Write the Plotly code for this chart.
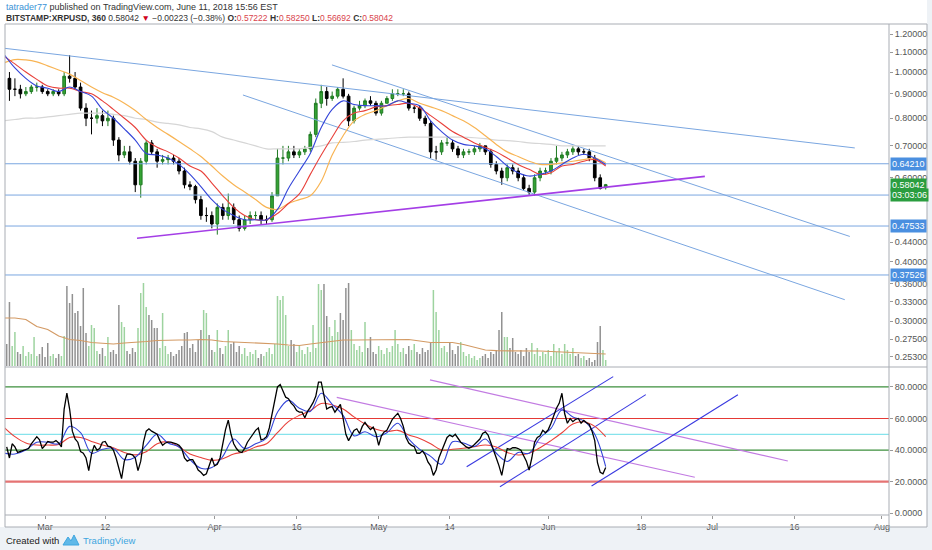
import numpy as np
import pandas as pd
import plotly.graph_objects as go

# ---------------- data ----------------
candle_start = "2018-02-22 12:00"   # daily candles, centred at noon
opens = [0.97, 0.92, 0.92, 0.90, 0.91, 0.93, 0.93, 0.91, 0.90, 0.91,
         0.90, 0.98, 0.97, 0.93, 0.84, 0.80, 0.80, 0.81, 0.79, 0.80,
         0.72, 0.67, 0.68, 0.65, 0.58, 0.65, 0.71, 0.68, 0.65, 0.655,
         0.66, 0.65, 0.62, 0.58, 0.575, 0.54, 0.50, 0.50, 0.48, 0.52,
         0.50, 0.52, 0.49, 0.47, 0.49, 0.50, 0.50, 0.49, 0.49, 0.55,
         0.66, 0.66, 0.68, 0.67, 0.68, 0.69, 0.74, 0.86, 0.91, 0.88,
         0.89, 0.92, 0.89, 0.79, 0.84, 0.85, 0.87, 0.86, 0.82, 0.86,
         0.88, 0.90, 0.90, 0.90, 0.84, 0.84, 0.80, 0.78, 0.68, 0.68,
         0.71, 0.71, 0.69, 0.67, 0.68, 0.68, 0.69, 0.70, 0.68, 0.64,
         0.62, 0.60, 0.63, 0.62, 0.60, 0.57, 0.56, 0.60, 0.62, 0.62,
         0.65, 0.66, 0.67, 0.68, 0.69, 0.68, 0.68, 0.66, 0.60, 0.57222]
closes = [0.92, 0.92, 0.90, 0.91, 0.93, 0.93, 0.91, 0.90, 0.91, 0.90,
          0.98, 0.97, 0.93, 0.84, 0.80, 0.80, 0.81, 0.79, 0.80, 0.72,
          0.67, 0.68, 0.65, 0.58, 0.65, 0.71, 0.68, 0.65, 0.655, 0.66,
          0.65, 0.62, 0.58, 0.575, 0.54, 0.50, 0.50, 0.48, 0.52, 0.50,
          0.52, 0.49, 0.47, 0.49, 0.50, 0.50, 0.49, 0.49, 0.55, 0.66,
          0.66, 0.68, 0.67, 0.68, 0.69, 0.74, 0.86, 0.91, 0.88, 0.89,
          0.92, 0.89, 0.79, 0.84, 0.85, 0.87, 0.86, 0.82, 0.86, 0.88,
          0.90, 0.90, 0.90, 0.84, 0.84, 0.80, 0.78, 0.68, 0.68, 0.71,
          0.71, 0.69, 0.67, 0.68, 0.68, 0.69, 0.70, 0.68, 0.64, 0.62,
          0.60, 0.63, 0.62, 0.60, 0.57, 0.56, 0.60, 0.62, 0.62, 0.65,
          0.66, 0.67, 0.68, 0.69, 0.68, 0.68, 0.66, 0.60, 0.57, 0.58042]
highs = [1.00, 0.97, 0.94, 0.93, 0.94, 0.95, 0.94, 0.92, 0.92, 0.92,
         1.00, 1.085, 1.00, 0.95, 0.86, 0.83, 0.84, 0.83, 0.83, 0.81,
         0.73, 0.70, 0.70, 0.66, 0.66, 0.72, 0.72, 0.69, 0.67, 0.67,
         0.67, 0.66, 0.63, 0.59, 0.58, 0.55, 0.52, 0.51, 0.53, 0.53,
         0.556, 0.53, 0.50, 0.50, 0.51, 0.51, 0.51, 0.50, 0.56, 0.69,
         0.70, 0.70, 0.70, 0.69, 0.70, 0.75, 0.88, 0.94, 0.93, 0.91,
         0.93, 0.97, 0.90, 0.85, 0.87, 0.88, 0.89, 0.87, 0.87, 0.89,
         0.92, 0.92, 0.92, 0.91, 0.85, 0.85, 0.81, 0.79, 0.70, 0.72,
         0.73, 0.72, 0.70, 0.69, 0.69, 0.70, 0.71, 0.70, 0.69, 0.65,
         0.63, 0.64, 0.64, 0.63, 0.61, 0.58, 0.61, 0.63, 0.63, 0.66,
         0.70, 0.68, 0.69, 0.70, 0.70, 0.69, 0.69, 0.67, 0.61, 0.58250]
lows = [0.87, 0.89, 0.88, 0.89, 0.90, 0.91, 0.90, 0.89, 0.89, 0.89,
        0.89, 0.95, 0.92, 0.83, 0.77, 0.74, 0.78, 0.77, 0.77, 0.70,
        0.65, 0.66, 0.64, 0.56, 0.545, 0.64, 0.67, 0.63, 0.64, 0.64,
        0.64, 0.61, 0.57, 0.565, 0.53, 0.49, 0.485, 0.47, 0.456, 0.49,
        0.49, 0.48, 0.463, 0.465, 0.48, 0.49, 0.48, 0.48, 0.485, 0.55,
        0.64, 0.65, 0.66, 0.66, 0.67, 0.68, 0.73, 0.84, 0.85, 0.87,
        0.88, 0.88, 0.77, 0.78, 0.83, 0.84, 0.85, 0.81, 0.81, 0.86,
        0.87, 0.89, 0.89, 0.83, 0.82, 0.79, 0.77, 0.66, 0.655, 0.67,
        0.70, 0.68, 0.66, 0.66, 0.67, 0.67, 0.68, 0.67, 0.63, 0.61,
        0.58, 0.59, 0.61, 0.59, 0.565, 0.55, 0.55, 0.59, 0.61, 0.61,
        0.64, 0.65, 0.66, 0.67, 0.67, 0.67, 0.65, 0.59, 0.567, 0.56692]

# 12-hour series (RSI oscillator and volume)
half_day_start = "2018-02-22 00:00"
rsi_values = [42, 35, 44, 42, 38.5, 39, 40, 40.5, 41, 44,
              46.5, 48.5, 46.5, 41, 43, 45.5, 45, 45, 46, 44.5,
              42, 66, 76, 66, 52, 47, 45, 39, 38, 35,
              27, 37.5, 43, 40, 41, 45, 45.5, 42.5, 42, 40,
              35, 28, 22, 33, 37.5, 37.5, 37, 35, 27, 33,
              45, 52, 53.5, 52, 51, 50, 46, 43, 44.5, 45,
              45, 44.5, 44, 43, 41, 35, 33, 34, 34, 31,
              27.4, 26, 24, 25, 30, 35, 30, 31, 35, 44,
              53, 59, 50, 44, 41, 39, 38.5, 41, 45, 47.5,
              50, 52.5, 54, 46.5, 47, 48.5, 54, 62, 70, 80,
              81.5, 77, 73.5, 72.5, 69.7, 68, 65, 64, 64, 60.5,
              64.5, 67, 70, 74, 83, 83, 75, 66, 67, 67.5,
              64, 66.4, 69, 60, 50, 46, 49, 52.5, 53.5, 50.5,
              55, 57.5, 55, 53, 54.5, 50.5, 43, 49, 51.5, 52.5,
              56, 59.5, 61.5, 63.3, 60, 55, 48, 44.5, 43, 42.2,
              38, 38, 39.5, 37, 32.5, 30, 24, 27.4, 35, 39,
              44, 48, 49.5, 48.5, 50, 47.5, 45, 43.5, 42, 41.2,
              42, 43.5, 45.5, 47, 50.5, 51.5, 49.5, 45, 40, 35,
              30, 24, 33, 41, 40.5, 41.5, 41.5, 41, 40, 36.5,
              33, 27.4, 35, 45, 48, 49, 52.5, 51, 53, 57,
              61.5, 66.5, 69.6, 76, 63, 57, 60, 58, 59.5, 60,
              57, 58.8, 57.3, 56.2, 52, 46, 32, 26, 25, 29]
volume_values = [22, 64, 20, 34, 14, 12, 20, 10, 14, 12,
                 29, 10, 12, 19, 9, 23, 10, 12, 8, 12,
                 10, 30, 80, 63, 72, 53, 55, 40, 78, 33,
                 20, 41, 38, 15, 12, 18, 10, 29, 14, 16,
                 12, 61, 44, 39, 15, 12, 18, 14, 38, 73,
                 83, 59, 51, 46, 38, 38, 18, 53, 20, 12,
                 14, 10, 12, 16, 20, 33, 34, 18, 22, 14,
                 26, 36, 56, 53, 31, 16, 14, 36, 18, 12,
                 20, 36, 22, 24, 14, 20, 12, 18, 10, 14,
                 12, 16, 8, 12, 10, 14, 18, 12, 22, 70,
                 66, 70, 51, 20, 26, 22, 14, 20, 16, 12,
                 19, 14, 41, 18, 82, 76, 82, 50, 39, 30,
                 46, 34, 53, 46, 78, 83, 36, 22, 16, 20,
                 14, 44, 18, 29, 14, 12, 20, 16, 12, 18,
                 14, 20, 36, 22, 14, 18, 12, 20, 16, 22,
                 14, 12, 18, 14, 16, 24, 76, 54, 36, 18,
                 20, 14, 24, 16, 12, 20, 24, 14, 10, 12,
                 8, 10, 6, 8, 10, 12, 8, 14, 12, 16,
                 36, 54, 29, 29, 18, 28, 14, 12, 16, 10,
                 18, 14, 23, 12, 18, 10, 14, 12, 16, 10,
                 22, 14, 18, 12, 22, 16, 12, 18, 10, 12,
                 8, 10, 6, 8, 4, 6, 24, 40, 16, 6]

# indicator lines sampled every 2 days
ma_start = "2018-02-21 12:00"
ma_fast = [1.09, 1.02, 0.97, 0.935, 0.925, 0.91, 0.93, 0.91, 0.89, 0.835,
           0.80, 0.76, 0.72, 0.675, 0.67, 0.66, 0.64, 0.61, 0.575, 0.54,
           0.515, 0.50, 0.49, 0.49, 0.49, 0.515, 0.57, 0.62, 0.675, 0.765,
           0.835, 0.87, 0.855, 0.85, 0.85, 0.85, 0.87, 0.86, 0.85, 0.79,
           0.75, 0.72, 0.705, 0.70, 0.69, 0.665, 0.635, 0.615, 0.605, 0.61,
           0.62, 0.64, 0.66, 0.672, 0.66, 0.64]
ma_mid = [1.08, 1.04, 1.00, 0.965, 0.935, 0.925, 0.925, 0.91, 0.90, 0.87,
          0.835, 0.80, 0.765, 0.72, 0.695, 0.68, 0.66, 0.635, 0.62, 0.585,
          0.55, 0.52, 0.50, 0.49, 0.49, 0.505, 0.53, 0.555, 0.61, 0.67,
          0.73, 0.79, 0.82, 0.83, 0.845, 0.85, 0.855, 0.86, 0.84, 0.81,
          0.78, 0.75, 0.73, 0.71, 0.695, 0.68, 0.66, 0.64, 0.625, 0.61,
          0.615, 0.635, 0.64, 0.65, 0.655, 0.635]
ma_slow = [1.045, 1.062, 1.06, 1.05, 1.03, 1.01, 0.99, 0.96, 0.93, 0.905,
           0.885, 0.86, 0.83, 0.795, 0.765, 0.74, 0.715, 0.69, 0.665, 0.635,
           0.605, 0.58, 0.56, 0.54, 0.52, 0.515, 0.53, 0.54, 0.55, 0.59,
           0.67, 0.735, 0.79, 0.815, 0.83, 0.85, 0.87, 0.88, 0.86, 0.845,
           0.83, 0.81, 0.79, 0.765, 0.735, 0.705, 0.68, 0.665, 0.65, 0.64,
           0.64, 0.645, 0.65, 0.655, 0.66, 0.645]
ma_long = [0.79, 0.795, 0.80, 0.80, 0.805, 0.81, 0.815, 0.82, 0.82, 0.82,
           0.815, 0.81, 0.80, 0.795, 0.785, 0.78, 0.775, 0.765, 0.76, 0.75,
           0.73, 0.72, 0.71, 0.70, 0.69, 0.69, 0.69, 0.69, 0.695, 0.70,
           0.71, 0.712, 0.715, 0.72, 0.722, 0.725, 0.728, 0.73, 0.73, 0.73,
           0.73, 0.73, 0.73, 0.728, 0.725, 0.72, 0.718, 0.715, 0.71, 0.708,
           0.705, 0.70, 0.70, 0.70, 0.70, 0.70]
volume_ma = [48, 48, 46.5, 39.5, 36.5, 30, 26.5, 25.5, 23.5, 22.5,
             22, 23, 23.5, 24.5, 25.5, 26, 26, 26, 26.5, 26,
             24.5, 24, 23.5, 23.5, 22.5, 22, 21, 20.5, 22, 23.5,
             25, 26, 26, 26, 26, 26.5, 26.5, 26.5, 25, 23.5,
             23.5, 23.5, 21.5, 19, 16, 15.3, 15.3, 15.3, 15.3, 15,
             14.5, 14, 13.5, 12.8, 12.3, 12]
rsi_ma_fast = [38, 37.5, 40, 45, 45, 44, 55, 51, 38, 40.5,
               41, 34, 35.5, 43, 50, 44.5, 42, 34, 28.5, 29,
               36, 47, 41, 44, 47.5, 64, 71.5, 66.5, 64.5, 76,
               69, 62, 49, 51.6, 48.5, 51, 57, 47, 40.5, 36,
               31, 45.3, 44.5, 42.3, 47, 38, 32.8, 38.5, 38, 47.8,
               53.7, 65.4, 61, 58.5, 50, 29.5]
rsi_ma_slow = [54.5, 48.5, 44.5, 43.2, 43.2, 43.5, 48, 48, 45.5, 43.2,
               41.5, 38.5, 37, 39, 44, 45.3, 42, 37.5, 35.3, 33.5,
               34.5, 37.5, 39, 42, 44, 51, 58, 62, 65, 69.5,
               68.6, 66, 61, 56.5, 53.2, 51.8, 52.5, 49.6, 47.3, 44,
               40, 40.5, 41.2, 42.2, 43.2, 42, 38.5, 36.9, 38, 41.5,
               46, 51, 56.5, 57.9, 55, 48.5]

# drawn levels and trend lines
price_levels = [0.64210, 0.5520, 0.47533, 0.37526]
level_labels = [0.64210, 0.47533, 0.37526]
level_span = ["2018-02-20 00:00", "2018-08-05 00:00"]
price_trend_start = ["2018-02-21 16:30", "2018-04-22 11:00", "2018-04-06 04:30"]
price_trend_start_val = [1.121, 1.035, 0.895]
price_trend_end = ["2018-07-27 01:00", "2018-07-26 03:00", "2018-07-25 05:00"]
price_trend_end_val = [0.693, 0.452, 0.333]
support_dates = ["2018-03-17 19:40", "2018-06-29 15:00"]
support_vals = [0.448, 0.604]

rsi_levels = [80, 60, 50, 40, 20]
rsi_down_start = ["2018-05-10 09:00", "2018-04-23 08:00"]
rsi_down_start_val = [84.4, 73.4]
rsi_down_end = ["2018-07-14 19:00", "2018-06-27 19:00"]
rsi_down_end_val = [33.1, 22.8]
rsi_up_start = ["2018-05-17 02:00", "2018-05-23 04:00", "2018-06-08 22:00"]
rsi_up_start_val = [29.5, 16.8, 17.3]
rsi_up_end = ["2018-06-12 21:00", "2018-06-18 20:00", "2018-07-05 16:00"]
rsi_up_end_val = [86.5, 75.1, 75.0]

price_ticks = [1.2, 1.1, 1.0, 0.9, 0.8, 0.7, 0.6, 0.44, 0.40, 0.36, 0.33, 0.30, 0.275, 0.253]
rsi_ticks = [0, 20, 40, 60, 80]
date_ticks = ["2018-03-01", "2018-03-12", "2018-04-01", "2018-04-16", "2018-05-01", "2018-05-14",
              "2018-06-01", "2018-06-18", "2018-07-01", "2018-07-16", "2018-08-01"]
date_tick_text = ["Mar", "12", "Apr", "16", "May", "14", "Jun", "18", "Jul", "16", "Aug"]
countdown = "03:03:06"
change_text = "\u22120.00223 (\u22120.38%)"

# ---------------- figure ----------------
FONT = "Liberation Sans"
W, H = 932, 550
ML, MR, MT, MB = 5, 43, 24, 35
PW, PH = W - ML - MR, H - MT - MB


def px(x):
    return (x - ML) / PW


def py(y):
    return (H - MB - y) / PH


price_dom = [py(367), 1.0]
rsi_dom = [0.0, py(368)]

candle_dates = pd.date_range(candle_start, periods=len(opens), freq="D")
half_dates = pd.date_range(half_day_start, periods=len(rsi_values), freq="12h")
ma_dates = pd.date_range(ma_start, periods=len(ma_fast), freq="2D")

fig = go.Figure()

# volume (base overlay axis, drawn underneath)
vol_colors = []
for k in range(len(volume_values)):
    i = min(k // 2, len(opens) - 1)
    vol_colors.append("rgba(76,175,80,0.55)" if closes[i] >= opens[i] else "rgba(55,55,55,0.55)")
fig.add_trace(go.Bar(x=half_dates, y=volume_values, marker=dict(color=vol_colors, line=dict(width=0)),
                     width=12 * 3600 * 1000 * 0.55, xaxis="x2", yaxis="y", hoverinfo="skip",
                     showlegend=False))
fig.add_trace(go.Scatter(x=ma_dates, y=volume_ma, mode="lines", line=dict(color="#d39a64", width=1.2),
                         xaxis="x2", yaxis="y", hoverinfo="skip", showlegend=False))

# price levels
for lv in price_levels:
    fig.add_trace(go.Scatter(x=level_span, y=[lv, lv], mode="lines", line=dict(color="#7aa6e0", width=1),
                             xaxis="x2", yaxis="y2", hoverinfo="skip", showlegend=False))
# trend lines
for a, av, b, bv in zip(price_trend_start, price_trend_start_val, price_trend_end, price_trend_end_val):
    fig.add_trace(go.Scatter(x=[a, b], y=[av, bv], mode="lines", line=dict(color="#7aa6e0", width=1),
                             xaxis="x2", yaxis="y2", hoverinfo="skip", showlegend=False))
fig.add_trace(go.Scatter(x=support_dates, y=support_vals, mode="lines", line=dict(color="#a43ee6", width=1.6),
                         xaxis="x2", yaxis="y2", hoverinfo="skip", showlegend=False))

# moving averages
for series, col, wd in [(ma_long, "#d6d6d6", 1.2), (ma_slow, "#f8b454", 1.2),
                        (ma_mid, "#e8403a", 1.1), (ma_fast, "#3344d8", 1.1)]:
    fig.add_trace(go.Scatter(x=ma_dates, y=series, mode="lines", line=dict(color=col, width=wd, shape="spline"),
                             xaxis="x2", yaxis="y2", hoverinfo="skip", showlegend=False))

# candles
fig.add_trace(go.Candlestick(x=candle_dates, open=opens, high=highs, low=lows, close=closes,
                             increasing=dict(line=dict(color="#1f7a22", width=1), fillcolor="#34a334"),
                             decreasing=dict(line=dict(color="#000000", width=1), fillcolor="#000000"),
                             whiskerwidth=0, xaxis="x2", yaxis="y2", hoverinfo="skip", showlegend=False))

# oscillator pane
rsi_level_style = {80: ("#3d8f3d", 1.2), 60: ("#e53935", 1.2), 50: ("#86e3ec", 1.2),
                   40: ("#3d8f3d", 1.2), 20: ("#e57373", 2.2)}
for lv in rsi_levels:
    col, wd = rsi_level_style[lv]
    fig.add_trace(go.Scatter(x=level_span, y=[lv, lv], mode="lines", line=dict(color=col, width=wd),
                             xaxis="x", yaxis="y3", hoverinfo="skip", showlegend=False))
for a, av, b, bv in zip(rsi_down_start, rsi_down_start_val, rsi_down_end, rsi_down_end_val):
    fig.add_trace(go.Scatter(x=[a, b], y=[av, bv], mode="lines", line=dict(color="#c27be2", width=1.2),
                             xaxis="x", yaxis="y3", hoverinfo="skip", showlegend=False))
for a, av, b, bv in zip(rsi_up_start, rsi_up_start_val, rsi_up_end, rsi_up_end_val):
    fig.add_trace(go.Scatter(x=[a, b], y=[av, bv], mode="lines", line=dict(color="#3a3ae0", width=1.1),
                             xaxis="x", yaxis="y3", hoverinfo="skip", showlegend=False))
fig.add_trace(go.Scatter(x=ma_dates, y=rsi_ma_slow, mode="lines", line=dict(color="#e8403a", width=1.1, shape="spline"),
                         xaxis="x", yaxis="y3", hoverinfo="skip", showlegend=False))
fig.add_trace(go.Scatter(x=ma_dates, y=rsi_ma_fast, mode="lines", line=dict(color="#3344d8", width=1.1, shape="spline"),
                         xaxis="x", yaxis="y3", hoverinfo="skip", showlegend=False))
fig.add_trace(go.Scatter(x=half_dates, y=rsi_values, mode="lines", line=dict(color="#000000", width=1.3),
                         xaxis="x", yaxis="y3", hoverinfo="skip", showlegend=False))

x_range = ["2018-02-21 16:30", "2018-08-02 07:00"]
tickfont = dict(family=FONT, size=9, color="#555555")

fig.update_layout(
    width=W, height=H, margin=dict(l=ML, r=MR, t=MT, b=MB),
    paper_bgcolor="#eef2f6", plot_bgcolor="#ffffff",
    showlegend=False, font=dict(family=FONT, size=10, color="#222"),
    xaxis=dict(domain=[0, 1], anchor="y3", range=x_range, type="date",
               tickvals=date_ticks, ticktext=date_tick_text, ticks="outside", ticklen=3,
               tickcolor="#999", tickfont=tickfont, showgrid=False, zeroline=False, showline=False,
               rangeslider=dict(visible=False)),
    xaxis2=dict(domain=[0, 1], anchor="y", matches="x", type="date", showticklabels=False,
                ticks="", showgrid=False, zeroline=False, showline=False,
                rangeslider=dict(visible=False)),
    yaxis=dict(domain=price_dom, anchor="x2", range=[-1, 342], visible=False, fixedrange=True),
    yaxis2=dict(overlaying="y", anchor="x2", side="right", type="log",
                range=[np.log10(0.2406), np.log10(1.261)],
                tickvals=price_ticks, ticktext=[f"{v:.5f}" for v in price_ticks],
                ticks="outside", ticklen=3, tickcolor="#999", tickfont=tickfont,
                showgrid=False, zeroline=False, showline=False),
    yaxis3=dict(domain=rsi_dom, anchor="x", side="right", range=[-1.08, 91.96],
                tickvals=rsi_ticks, ticktext=[f"{v:.4f}" for v in rsi_ticks],
                ticks="outside", ticklen=3, tickcolor="#999", tickfont=tickfont,
                showgrid=False, zeroline=False, showline=False),
)

# frame
frame_col = "#a9adb4"
shapes = [
    dict(type="rect", xref="paper", yref="paper", x0=px(0), x1=px(927), y0=py(527), y1=py(0),
         fillcolor="#ffffff", line=dict(width=0), layer="below"),
    dict(type="rect", xref="paper", yref="paper", x0=px(5), x1=px(927), y0=py(527), y1=py(24),
         line=dict(color=frame_col, width=1)),
    dict(type="line", xref="paper", yref="paper", x0=px(889), x1=px(889), y0=py(527), y1=py(24),
         line=dict(color=frame_col, width=1)),
    dict(type="line", xref="paper", yref="paper", x0=px(5), x1=px(889), y0=py(515), y1=py(515),
         line=dict(color=frame_col, width=1)),
    dict(type="line", xref="paper", yref="paper", x0=px(5), x1=px(927), y0=py(367), y1=py(367),
         line=dict(color=frame_col, width=1)),
]
# small TradingView-like logo
logo = [(63, 545), (68, 537), (71, 541), (74, 535), (79, 545)]
path = "M " + " L ".join(f"{px(a):.5f},{py(b):.5f}" for a, b in logo) + " Z"
shapes.append(dict(type="path", xref="paper", yref="paper", path=path,
                   fillcolor="#5fb8e8", line=dict(color="#3ea6e0", width=1)))
fig.update_layout(shapes=shapes)

ann = []
red = "#d9434b"
line1 = ("<span style='color:#3a93d6'>tatrader77</span> published on TradingView.com, "
         "June 11, 2018 15:56 EST")
line2 = (f"<b>BITSTAMP:XRPUSD, 360</b> {closes[-1]:.5f} <span style='color:#d0021b'>\u25bc</span> {change_text} "
         f"<b>O:</b><span style='color:{red}'>{opens[-1]:.5f}</span> "
         f"<b>H:</b><span style='color:{red}'>{highs[-1]:.5f}</span> "
         f"<b>L:</b><span style='color:{red}'>{lows[-1]:.5f}</span> "
         f"<b>C:</b><span style='color:{red}'>{closes[-1]:.5f}</span>")
ann.append(dict(xref="paper", yref="paper", x=px(4), y=py(7.5), text=line1, showarrow=False,
                xanchor="left", yanchor="middle", font=dict(family=FONT, size=9, color="#333")))
ann.append(dict(xref="paper", yref="paper", x=px(4), y=py(17.5), text=line2, showarrow=False,
                xanchor="left", yanchor="middle", font=dict(family=FONT, size=8.5, color="#333")))
ann.append(dict(xref="paper", yref="paper", x=px(4), y=py(540), text="Created with", showarrow=False,
                xanchor="left", yanchor="middle", font=dict(family=FONT, size=9.5, color="#222")))
ann.append(dict(xref="paper", yref="paper", x=px(81), y=py(540), text="TradingView", showarrow=False,
                xanchor="left", yanchor="middle", font=dict(family=FONT, size=9.5, color="#3ea6e0")))

label_x = px(890)
for lv in level_labels:
    ann.append(dict(xref="paper", yref="y2", x=label_x, y=np.log10(lv), text=f"{lv:.5f}",
                    showarrow=False, xanchor="left", yanchor="middle", bgcolor="#4a8fe0",
                    borderpad=1, font=dict(family=FONT, size=9, color="#ffffff")))
ann.append(dict(xref="paper", yref="y2", x=label_x, y=np.log10(closes[-1]), text=f"{closes[-1]:.5f}",
                showarrow=False, xanchor="left", yanchor="middle", bgcolor="#2a9d3f",
                borderpad=1, font=dict(family=FONT, size=9, color="#ffffff")))
ann.append(dict(xref="paper", yref="y2", x=label_x, y=np.log10(closes[-1]), yshift=-10, text=countdown,
                showarrow=False, xanchor="left", yanchor="middle", bgcolor="#2a9d3f",
                borderpad=1, font=dict(family=FONT, size=9, color="#ffffff")))
fig.update_layout(annotations=ann)

fig.write_html("out.html", config={"displayModeBar": False},
               post_script="document.body.style.margin='0';document.body.style.overflow='hidden';")
